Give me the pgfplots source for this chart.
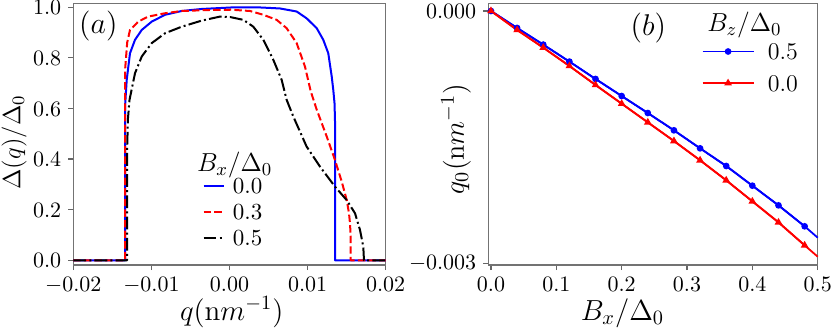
\RequirePackage{fix-cm}
\documentclass[border=0pt]{standalone}
\usepackage{pgfplots}
\pgfplotsset{compat=1.18}
\begin{document}
\begin{tikzpicture}
\path[use as bounding box] (0pt,0pt) rectangle (415.5pt,164pt);
\pgfplotsset{
  panel/.style={
    scale only axis, anchor=south west, height=130.8pt,
    axis line style={draw=black!55, line width=0.7pt},
    every tick/.style={draw=black!60, line width=0.6pt},
    major tick length=2.5pt,
    tick align=outside, tick pos=left,
    scaled ticks=false,
    ticklabel style={font=\fontsize{11}{13}\selectfont},
    legend style={draw=none, fill=none, inner sep=0pt, outer sep=0pt, anchor=north west},
    legend cell align=left,
  },
}
\begin{axis}[panel, at={(36.65pt,31.5pt)}, width=156.2pt,
  xmin=-0.02, xmax=0.02, ymin=-0.0186, ymax=1.015,
  xtick={-0.02,-0.01,0,0.01,0.02}, xticklabels={$-0.02$,$-0.01$,$0.00$,$0.01$,$0.02$},
  ytick={0,0.2,0.4,0.6,0.8,1}, yticklabels={$0.0$,$0.2$,$0.4$,$0.6$,$0.8$,$1.0$},
  yticklabel style={yshift=-0.3pt},
  xlabel={$q(\mathrm{n}m^{-1})$}, ylabel={$\Delta(q)/\Delta_0$},
  every axis x label/.style={at={(axis description cs:0.507,-0.2408)}, anchor=south, inner sep=0pt, font=\fontsize{14.5}{17}\selectfont},
  every axis y label/.style={at={(axis description cs:-0.1898,0.469)}, rotate=90, anchor=center, inner sep=0pt, font=\fontsize{12.5}{15}\selectfont},
  legend style={at={(axis description cs:0.4142,0.3327)}, font=\fontsize{11.5}{13}\selectfont, nodes={inner sep=0pt, text height=8pt, text depth=0pt}, row sep=5pt, /tikz/every odd column/.style={column sep=3.85pt}},
  legend image code/.code={\draw plot coordinates {(0pt,0pt) (10.3pt,0pt)};},
]
\addplot[blue, line width=1pt, line join=round] coordinates {
(-0.0200,0) (-0.01335,0) (-0.01335,0.62) (-0.01316,0.713) (-0.01274,0.818) (-0.0121,0.871)
(-0.01124,0.910) (-0.00996,0.943) (-0.00826,0.970) (-0.00612,0.985) (-0.00356,0.993)
(0.00028,0.999) (0.0039,0.999) (0.00647,0.995) (0.0086,0.983) (0.00988,0.956)
(0.01117,0.917) (0.01201,0.871) (0.01265,0.818) (0.01309,0.726) (0.01329,0.673)
(0.01345,0.62) (0.01351,0.55) (0.01351,0) (0.0200,0)};
\addlegendentry{$0.0$}
\addplot[red, line width=1pt, line join=round, dash pattern=on 3.7pt off 1.6pt] coordinates {
(-0.0200,0) (-0.01335,0) (-0.01335,0.76) (-0.0131,0.86) (-0.01274,0.910) (-0.01168,0.943)
(-0.0104,0.963) (-0.00826,0.976) (-0.00612,0.985) (-0.0025,0.989) (0.00028,0.990)
(0.00263,0.985) (0.00433,0.970) (0.00604,0.950) (0.00732,0.917) (0.0086,0.858)
(0.00967,0.765) (0.0104,0.668) (0.01117,0.595) (0.01245,0.489) (0.01351,0.396)
(0.01437,0.311) (0.01501,0.238) (0.0153,0.186) (0.01543,0.146) (0.01552,0.093)
(0.01552,0) (0.0200,0)};
\addlegendentry{$0.3$}
\addplot[black, line width=1pt, line join=round, dash pattern=on 6.4pt off 1.6pt on 1pt off 1.6pt] coordinates {
(-0.0200,0) (-0.0131,0) (-0.0131,0.45) (-0.0130,0.56) (-0.0128,0.634) (-0.0121,0.739)
(-0.01124,0.805) (-0.00996,0.858) (-0.00826,0.897) (-0.00612,0.923) (-0.00356,0.947)
(-0.0012,0.963) (0.0001,0.961) (0.00177,0.950) (0.00305,0.923) (0.00433,0.871)
(0.00561,0.792) (0.00668,0.713) (0.00732,0.634) (0.00817,0.568) (0.00988,0.449)
(0.01159,0.370) (0.01351,0.291) (0.0150,0.238) (0.01607,0.186) (0.01671,0.120)
(0.01713,0.054) (0.01722,0) (0.0200,0)};
\addlegendentry{$0.5$}
\end{axis}
\begin{axis}[panel, at={(244.15pt,31.5pt)}, width=164.7pt, clip=false,
  xmin=-0.0041, xmax=0.5, ymin=-0.00302, ymax=0.00009,
  xtick={0,0.1,0.2,0.3,0.4,0.5}, xticklabels={$0.0$,$0.1$,$0.2$,$0.3$,$0.4$,$0.5$},
  ytick={-0.003,0}, yticklabels={$-0.003$,$0.000$},
  xlabel={$B_x/\Delta_0$}, ylabel={$q_0(\mathrm{n}m^{-1})$},
  every axis x label/.style={at={(axis description cs:0.4074,-0.2408)}, anchor=south, inner sep=0pt, font=\fontsize{14.5}{17}\selectfont},
  every axis y label/.style={at={(axis description cs:-0.098,0.482)}, rotate=90, anchor=center, inner sep=0pt, font=\fontsize{14}{17}\selectfont},
  legend style={at={(axis description cs:0.6478,0.8467)}, font=\fontsize{12}{14}\selectfont, nodes={inner sep=0pt, text height=8pt, text depth=0pt}, row sep=7.8pt, /tikz/every odd column/.style={column sep=6.65pt}},
  legend image code/.code={\draw[mark repeat=2,mark phase=2] plot coordinates {(0pt,0pt) (12.75pt,0pt) (25.5pt,0pt)};},
]
\addplot[blue, line width=0.9pt, forget plot] coordinates {
(0,0) (0.04,-0.000202) (0.08,-0.000400) (0.12,-0.000602) (0.16,-0.000808) (0.20,-0.001011)
(0.24,-0.001213) (0.28,-0.001419) (0.32,-0.001633) (0.36,-0.001843) (0.40,-0.002077)
(0.44,-0.002311) (0.48,-0.002560) (0.50,-0.002695)};
\addplot[blue, line width=0.9pt, mark=*, mark size=1.2pt] coordinates {
(0,0) (0.04,-0.000202) (0.08,-0.000400) (0.12,-0.000602) (0.16,-0.000808) (0.20,-0.001011)
(0.24,-0.001213) (0.28,-0.001419) (0.32,-0.001633) (0.36,-0.001843) (0.40,-0.002077)
(0.44,-0.002311) (0.48,-0.002560)};
\addlegendentry{$0.5$}
\addplot[red, line width=0.9pt, forget plot] coordinates {
(0,0) (0.04,-0.000226) (0.08,-0.000436) (0.12,-0.000654) (0.16,-0.000880) (0.20,-0.001102)
(0.24,-0.001324) (0.28,-0.001546) (0.32,-0.001775) (0.36,-0.002013) (0.40,-0.002263)
(0.44,-0.002513) (0.48,-0.002786) (0.50,-0.002921)};
\addplot[red, line width=0.9pt, mark=triangle*, mark size=1.35pt] coordinates {
(0,0) (0.04,-0.000226) (0.08,-0.000436) (0.12,-0.000654) (0.16,-0.000880) (0.20,-0.001102)
(0.24,-0.001324) (0.28,-0.001546) (0.32,-0.001775) (0.36,-0.002013) (0.40,-0.002263)
(0.44,-0.002513) (0.48,-0.002786)};
\addlegendentry{$0.0$}
\end{axis}
\node[anchor=center, inner sep=0pt, font=\fontsize{15}{18}\selectfont] at (49.15pt,151.1pt) {$(a)$};
\node[anchor=center, inner sep=0pt, font=\fontsize{15}{18}\selectfont] at (324.2pt,150.25pt) {$(b)$};
\node[anchor=base west, inner sep=0pt, font=\fontsize{13}{15}\selectfont] at (98.3pt,78.15pt) {$B_x/\Delta_0$};
\node[anchor=base west, inner sep=0pt, font=\fontsize{13}{15}\selectfont] at (353.5pt,148.15pt) {$B_z/\Delta_0$};
\end{tikzpicture}
\end{document}
